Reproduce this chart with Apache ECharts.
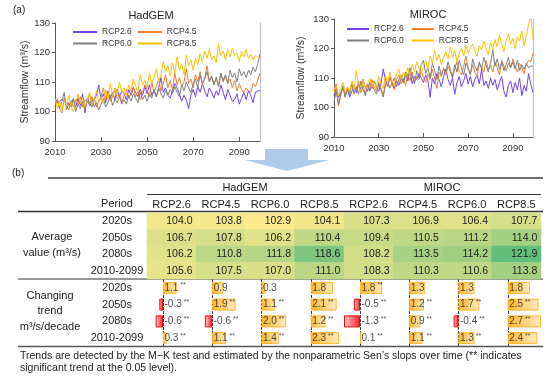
<!DOCTYPE html>
<html>
<head>
<meta charset="utf-8">
<script src="https://cdn.jsdelivr.net/npm/echarts@6/dist/echarts.min.js"></script>
<style>
  html, body { margin: 0; padding: 0; background: #fff; }
  #chart { width: 550px; height: 384px; }
</style>
</head>
<body>
<div id="chart"></div>
<script>
// x categories of the two line charts
const years = [];
for (let y = 2010; y <= 2099; y++) years.push(String(y));

// (a) annual streamflow, 2010..2099
const hadgemRcp26 = [
  103.5, 103.0, 103.5, 104.0, 103.5, 103.0, 102.0, 103.5, 104.0, 101.5,
  104.5, 102.0, 106.0, 99.5, 104.5, 103.0, 101.5, 104.0, 105.5, 109.0,
  104.0, 106.0, 103.0, 107.0, 104.5, 106.5, 104.0, 107.5, 105.0, 107.0,
  106.0, 104.0, 107.5, 105.5, 108.0, 106.5, 105.0, 107.5, 105.5, 108.5,
  106.0, 109.0, 105.5, 107.0, 105.0, 108.0, 111.5, 106.5, 108.0, 105.5,
  104.5, 107.0, 109.5, 108.0, 106.0, 103.5, 105.5, 104.0, 101.0, 105.5,
  107.5, 105.0, 108.5, 106.5, 109.5, 107.0, 105.0, 108.0, 106.5, 104.5,
  107.0, 105.5, 109.0, 106.5, 104.0, 107.5, 105.5, 103.5, 104.0, 106.0,
  102.5, 104.5, 106.5, 104.0, 107.0, 105.5, 103.0, 106.5, 107.0, 107.0
];
const hadgemRcp45 = [
  102.0, 104.0, 101.0, 99.5, 104.5, 102.0, 100.5, 103.5, 101.5, 104.0,
  102.5, 105.0, 101.5, 104.0, 103.0, 106.0, 102.0, 104.5, 101.5, 103.5,
  105.0, 108.0, 104.0, 106.5, 103.5, 105.0, 107.5, 104.5, 106.0, 103.0,
  105.5, 107.5, 104.5, 106.0, 108.5, 105.0, 107.0, 104.0, 106.5, 109.0,
  107.5, 105.0, 110.0, 106.5, 108.5, 111.0, 107.0, 109.5, 112.5, 108.0,
  110.5, 107.5, 113.0, 109.0, 111.5, 108.5, 110.0, 114.5, 109.5, 111.0,
  108.0, 112.5, 110.0, 113.5, 109.0, 111.5, 115.5, 110.5, 112.0, 109.0,
  111.5, 108.5, 113.0, 110.0, 112.0, 109.5, 111.0, 108.0, 110.5, 107.0,
  109.5, 107.5, 106.5, 108.0, 107.0, 106.5, 109.5, 108.5, 110.5, 113.0
];
const hadgemRcp60 = [
  102.0, 104.0, 101.0, 103.5, 106.5, 100.5, 103.0, 101.5, 104.5, 100.0,
  102.5, 101.0, 103.5, 100.5, 104.0, 102.0, 105.0, 101.5, 103.0, 100.5,
  102.5, 104.5, 101.5, 103.0, 105.5, 102.0, 104.0, 103.0, 105.0, 102.5,
  104.0, 102.5, 105.5, 103.5, 106.0, 104.5, 103.0, 106.5, 104.0, 105.5,
  103.5, 106.0, 104.5, 107.5, 105.0, 108.0, 106.0, 104.5, 107.0, 105.5,
  107.5, 106.0, 108.5, 106.5, 105.0, 109.0, 107.0, 110.0, 108.0, 106.5,
  109.5, 111.0, 108.0, 112.5, 109.5, 111.0, 113.5, 110.0, 112.0, 109.0,
  111.5, 108.5, 113.0, 110.5, 112.5, 109.5, 114.0, 111.5, 113.0, 110.0,
  114.5, 112.0, 113.5, 111.5, 114.0, 112.5, 115.0, 113.5, 116.0, 119.5
];
const hadgemRcp85 = [
  104.5, 101.0, 103.5, 100.5, 104.0, 102.0, 105.5, 101.5, 100.0, 103.0,
  106.0, 102.5, 104.5, 101.5, 103.5, 106.5, 102.0, 104.0, 107.0, 103.5,
  105.0, 102.5, 107.5, 104.0, 109.5, 105.0, 108.0, 106.0, 110.0, 106.5,
  108.0, 105.5, 109.0, 107.0, 111.0, 108.5, 106.5, 112.5, 109.0, 110.5,
  108.0, 113.0, 109.5, 111.5, 114.5, 110.0, 112.5, 117.0, 113.5, 115.5,
  112.0, 116.5, 113.0, 118.5, 114.0, 116.0, 112.5, 119.0, 115.5, 117.5,
  114.0, 118.0, 116.0, 119.5, 117.0, 120.5, 118.0, 121.0, 117.5, 119.0,
  116.5, 123.0, 119.0, 120.5, 117.5, 121.0, 118.5, 121.5, 119.0, 120.0,
  117.0, 120.5, 118.5, 121.0, 118.0, 119.5, 117.5, 119.0, 118.5, 118.0
];
const mirocRcp26 = [
  104.0, 106.5, 103.5, 105.0, 107.0, 104.5, 106.0, 103.5, 105.5, 107.5,
  105.0, 108.0, 106.0, 109.5, 107.0, 105.5, 108.5, 106.5, 109.0, 107.0,
  105.5, 108.0, 113.0, 109.5, 107.0, 110.0, 108.5, 106.5, 109.0, 107.5,
  110.0, 108.5, 111.0, 109.0, 112.5, 108.0, 110.5, 109.5, 111.5, 110.0,
  108.5, 111.0, 109.0, 103.5, 110.0, 108.0, 111.5, 109.5, 107.0, 110.5,
  113.0, 109.5, 107.5, 110.0, 104.5, 108.5, 110.5, 107.0, 109.0, 111.5,
  108.0, 110.5, 107.0, 109.5, 111.0, 108.0, 113.0, 107.5, 109.0, 106.5,
  110.0, 107.5, 109.5, 106.0, 108.5, 110.5, 105.5, 103.5, 107.5, 109.0,
  105.0, 108.5, 106.0, 110.0, 104.0, 107.5, 105.5, 111.5, 108.0, 105.0
];
const mirocRcp45 = [
  106.0, 108.0, 100.5, 104.0, 107.5, 103.5, 106.5, 105.0, 108.5, 104.5,
  106.5, 109.0, 105.0, 107.5, 104.5, 108.0, 106.0, 109.5, 107.0, 105.5,
  108.5, 106.5, 104.0, 109.0, 107.0, 110.5, 108.0, 106.0, 109.5, 111.0,
  108.0, 110.0, 107.5, 111.5, 109.0, 112.0, 108.5, 110.5, 109.5, 112.5,
  110.0, 108.5, 111.5, 109.5, 113.0, 110.0, 106.5, 112.0, 110.5, 113.5,
  111.0, 114.0, 112.0, 110.0, 113.0, 115.5, 112.5, 111.0, 114.0, 117.5,
  113.0, 111.5, 114.5, 112.0, 110.5, 115.0, 113.5, 112.0, 116.0, 113.0,
  114.5, 112.0, 115.5, 113.5, 111.0, 116.0, 114.0, 112.5, 115.0, 113.5,
  116.5, 114.0, 112.0, 115.0, 113.5, 111.5, 114.5, 116.0, 115.5, 118.5
];
const mirocRcp60 = [
  102.0, 105.5, 101.0, 104.5, 107.0, 103.5, 106.0, 104.0, 108.5, 105.0,
  107.0, 104.5, 109.0, 106.0, 104.0, 108.0, 105.5, 107.5, 106.0, 104.5,
  108.0, 106.0, 103.5, 107.5, 109.0, 106.5, 108.5, 110.0, 107.0, 109.5,
  111.0, 108.5, 112.0, 109.5, 113.5, 110.5, 108.0, 112.5, 110.0, 114.5,
  116.0, 111.5, 113.5, 110.0, 115.0, 112.5, 109.5, 114.0, 111.0, 113.0,
  112.0, 115.5, 113.0, 110.5, 114.5, 112.0, 116.0, 113.5, 111.0, 115.0,
  113.5, 111.0, 116.5, 114.0, 112.5, 115.5, 113.0, 117.0, 114.5, 112.0,
  115.0, 119.5, 114.0, 116.5, 113.0, 115.5, 112.5, 114.5, 117.0, 113.5,
  115.5, 113.0, 116.0, 112.5, 114.5, 113.0, 115.0, 113.5, 114.0, 114.0
];
const mirocRcp85 = [
  105.0, 107.5, 104.0, 106.5, 108.5, 105.0, 107.0, 105.5, 109.0, 106.0,
  112.5, 107.0, 105.5, 109.5, 106.5, 108.0, 110.0, 107.0, 109.0, 106.5,
  110.5, 108.0, 106.5, 111.0, 108.5, 112.0, 109.0, 107.5, 111.5, 113.0,
  109.5, 112.0, 110.0, 113.5, 111.0, 114.5, 112.0, 115.5, 113.0, 111.5,
  114.0, 116.0, 113.0, 117.5, 115.0, 119.5, 116.0, 118.0, 114.5, 117.0,
  119.0, 116.5, 120.5, 117.0, 119.5, 115.5, 118.5, 120.0, 117.5, 121.0,
  118.5, 120.0, 121.5, 119.0, 117.5, 121.0, 119.5, 122.5, 120.0, 118.0,
  122.0, 119.5, 123.0, 120.5, 124.5, 121.5, 119.0, 122.5, 125.0, 121.5,
  123.5, 120.0, 124.0, 122.5, 126.0, 121.0, 124.5, 128.0, 131.5, 123.0
];

// (b) table
const scenarios = ['RCP2.6', 'RCP4.5', 'RCP6.0', 'RCP8.5', 'RCP2.6', 'RCP4.5', 'RCP6.0', 'RCP8.5'];
const periods = ['2020s', '2050s', '2080s', '2010-2099'];
const avg2020s = [104.0, 103.8, 102.9, 104.1, 107.3, 106.9, 106.4, 107.7];
const avg2050s = [106.7, 107.8, 106.2, 110.4, 109.4, 110.5, 111.2, 114.0];
const avg2080s = [106.2, 110.8, 111.8, 118.6, 108.2, 113.5, 114.2, 121.9];
const avgAll = [105.6, 107.5, 107.0, 111.0, 108.3, 110.3, 110.6, 113.8];
const trend2020s = [1.1, 0.9, 0.3, 1.8, 1.8, 1.3, 1.3, 1.8];
const trend2050s = [-0.3, 1.9, 1.1, 2.1, -0.5, 1.2, 1.7, 2.5];
const trend2080s = [-0.6, -0.6, 2.0, 1.2, -1.3, 0.9, -0.4, 2.7];
const trendAll = [0.3, 1.1, 1.4, 2.3, 0.1, 1.1, 1.3, 2.4];
const sig2020s = [1, 0, 0, 0, 1, 0, 0, 0];
const sig2050s = [1, 1, 1, 1, 1, 1, 1, 1];
const sig2080s = [1, 1, 1, 1, 1, 1, 1, 1];
const sigAll = [1, 1, 1, 1, 1, 1, 1, 1];

const FONT = 'Liberation Sans, Arial, sans-serif';
const colors = { 'RCP2.6': '#7040F2', 'RCP4.5': '#ED7D31', 'RCP6.0': '#7F7F7F', 'RCP8.5': '#FFC000' };

let chart = echarts.init(document.getElementById('chart'), null, { renderer: 'canvas' });

let grid = [
  { left: 55, top: 23, width: 205, height: 118 },   // HadGEM lines
  { left: 334, top: 19, width: 199, height: 118 },  // MIROC lines
  { left: 147, top: 213, width: 394, height: 66 }   // average heatmap
];
let xAxis = [];
let yAxis = [];
let series = [];

// line charts
function lineAxes(gi, nameGap) {
  xAxis.push({
    type: 'category', gridIndex: gi, data: years, boundaryGap: false,
    axisLine: { lineStyle: { color: '#595959' } },
    axisTick: { inside: true, length: 4, interval: 19, lineStyle: { color: '#595959' } },
    axisLabel: { interval: 19, fontSize: 9.5, color: '#333', margin: 6, fontFamily: FONT },
    splitLine: { show: false }
  });
  yAxis.push({
    type: 'value', gridIndex: gi, min: 90, max: 130, interval: 10,
    name: 'Streamflow (m³/s)', nameLocation: 'middle', nameGap: nameGap,
    nameTextStyle: { fontSize: 10.5, color: '#333', fontFamily: FONT },
    axisLine: { show: true, lineStyle: { color: '#595959' } },
    axisTick: { show: true, length: 3, lineStyle: { color: '#595959' } },
    axisLabel: { fontSize: 9.5, color: '#333', margin: 5, fontFamily: FONT },
    splitLine: { show: false }
  });
  yAxis.push({
    type: 'value', gridIndex: gi, min: 90, max: 130, position: 'right',
    axisLine: { show: true, lineStyle: { color: '#c0c0c0' } },
    axisTick: { show: false }, axisLabel: { show: false }, splitLine: { show: false }
  });
}
lineAxes(0, 24);
lineAxes(1, 27);

function addLines(gi, yi, list) {
  list.forEach(([name, data]) => {
    series.push({
      type: 'line', name: name, xAxisIndex: gi, yAxisIndex: yi, data: data,
      symbol: 'none', lineStyle: { width: 1, color: colors[name] },
      itemStyle: { color: colors[name] }
    });
  });
}
addLines(0, 0, [['RCP2.6', hadgemRcp26], ['RCP4.5', hadgemRcp45], ['RCP6.0', hadgemRcp60], ['RCP8.5', hadgemRcp85]]);
addLines(1, 2, [['RCP2.6', mirocRcp26], ['RCP4.5', mirocRcp45], ['RCP6.0', mirocRcp60], ['RCP8.5', mirocRcp85]]);

// heatmap of average values
xAxis.push({
  type: 'category', gridIndex: 2, data: scenarios, position: 'top',
  axisLine: { show: false }, axisTick: { show: false },
  axisLabel: { interval: 0, fontSize: 11, color: '#222', margin: 3, fontFamily: FONT }
});
yAxis.push({
  type: 'category', gridIndex: 2, data: periods, inverse: true,
  axisLine: { show: false }, axisTick: { show: false },
  axisLabel: { interval: 0, fontSize: 11, color: '#222', margin: 30, align: 'center', fontFamily: FONT }
});
let avgRows = [avg2020s, avg2050s, avg2080s, avgAll];
let heatData = [];
avgRows.forEach((row, r) => row.forEach((v, c) => heatData.push([c, r, v])));
let heatIndex = series.length;
series.push({
  type: 'heatmap', xAxisIndex: 2, yAxisIndex: 4, data: heatData,
  label: {
    show: true, position: 'insideRight', distance: 4,
    fontSize: 10.5, color: '#222', fontFamily: FONT,
    formatter: p => p.value[2].toFixed(1)
  },
  emphasis: { disabled: true }
});

// data bars of changing trend, one small grid per column
let trendRows = [trend2020s, trend2050s, trend2080s, trendAll];
let sigRows = [sig2020s, sig2050s, sig2080s, sigAll];
const colW = 394 / 8;
const posFill = new echarts.graphic.LinearGradient(0, 0, 1, 0, [
  { offset: 0, color: '#FFB628' }, { offset: 1, color: '#FFEBC4' }
]);
const negFill = new echarts.graphic.LinearGradient(0, 0, 1, 0, [
  { offset: 0, color: '#FFD2D2' }, { offset: 1, color: '#FF1A1A' }
]);
for (let k = 0; k < 8; k++) {
  let gi = grid.length;
  grid.push({ left: 147 + k * colW, top: 279.5, width: colW, height: 67 });
  let xi = xAxis.length;
  xAxis.push({ type: 'value', gridIndex: gi, min: -1.3, max: 2.7, show: false });
  let yi = yAxis.length;
  yAxis.push({
    type: 'category', gridIndex: gi, data: periods, inverse: true,
    axisLine: { show: true, onZero: true, lineStyle: { color: '#333', type: [2, 2], width: 1 } },
    axisTick: { show: false }, axisLabel: { show: false }
  });
  series.push({
    type: 'bar', xAxisIndex: xi, yAxisIndex: yi, barWidth: 12, z: 2,
    data: trendRows.map(row => {
      let v = row[k];
      return {
        value: v,
        itemStyle: v >= 0
          ? { color: posFill, borderColor: '#FFB628', borderWidth: 1 }
          : { color: negFill, borderColor: '#FF0000', borderWidth: 1 }
      };
    }),
    emphasis: { disabled: true }
  });
  series.push({
    type: 'scatter', xAxisIndex: xi, yAxisIndex: yi, symbolSize: 1, z: 5,
    itemStyle: { color: 'rgba(0,0,0,0)' },
    data: trendRows.map((row, r) => ({ value: [0, r], t: row[k].toFixed(1), s: sigRows[r][k] })),
    label: {
      show: true, position: 'right', distance: 1,
      formatter: p => '{v|' + p.data.t + '}' + (p.data.s ? '{s| **}' : ''),
      rich: {
        v: { fontSize: 10, color: '#222', fontFamily: FONT, lineHeight: 12 },
        s: { fontSize: 7, color: '#222', fontFamily: FONT, verticalAlign: 'top', lineHeight: 8 }
      }
    },
    emphasis: { disabled: true }
  });
  if (k === 0) {
    yAxis.push({
      type: 'category', gridIndex: gi, data: periods, inverse: true, position: 'left',
      axisLine: { show: false, onZero: false }, axisTick: { show: false },
      axisLabel: { interval: 0, fontSize: 11, color: '#222', margin: 30, align: 'center', fontFamily: FONT }
    });
  }
}

function legendRow(names, left, top, itemWidth, itemGap) {
  return {
    data: names.map(n => ({ name: n, icon: 'rect' })),
    left: left, top: top, itemWidth: itemWidth, itemHeight: 2, itemGap: itemGap,
    selectedMode: false,
    textStyle: { fontSize: 8.5, color: '#333', fontFamily: FONT }
  };
}

function txt(text, x, y, size, align, extra) {
  return {
    type: 'text', silent: true,
    style: Object.assign({
      text: text, x: x, y: y, fill: '#222', font: size + 'px ' + FONT,
      textAlign: align || 'left', textVerticalAlign: 'middle'
    }, extra || {})
  };
}
function hline(x1, x2, y, w, c) {
  return { type: 'line', silent: true, shape: { x1: x1, y1: y, x2: x2, y2: y }, style: { stroke: c, lineWidth: w } };
}

let option = {
  animation: false,
  textStyle: { fontFamily: FONT },
  title: [
    { text: 'HadGEM', left: 146, top: 5, textAlign: 'center', textStyle: { fontSize: 11, fontWeight: 'normal', color: '#222', fontFamily: FONT } },
    { text: 'MIROC', left: 423, top: 4, textAlign: 'center', textStyle: { fontSize: 11, fontWeight: 'normal', color: '#222', fontFamily: FONT } }
  ],
  legend: [
    legendRow(['RCP2.6', 'RCP4.5'], 68, 22.5, 24, 6),
    legendRow(['RCP6.0', 'RCP8.5'], 68, 34, 24, 6),
    legendRow(['RCP2.6', 'RCP4.5'], 342, 19.5, 22, 8),
    legendRow(['RCP6.0', 'RCP8.5'], 342, 31, 22, 8)
  ],
  visualMap: {
    show: false, type: 'continuous', seriesIndex: heatIndex, dimension: 2,
    min: 102.9, max: 121.9, inRange: { color: ['#FCE98C', '#63BE7B'] }
  },
  grid: grid,
  xAxis: xAxis,
  yAxis: yAxis,
  series: series,
  graphic: [
    txt('(a)', 13, 10, 10),
    txt('(b)', 12, 173, 10),
    {
      type: 'polygon', silent: true,
      shape: { points: [[265, 149], [308, 149], [308, 160], [329, 160], [287, 171], [245, 160], [265, 160]] },
      style: { fill: '#AFCBEA' }
    },
    hline(48, 543, 178, 2, '#707070'),
    txt('HadGEM', 245, 188, 11, 'center'),
    txt('MIROC', 442, 188, 11, 'center'),
    hline(147, 541, 194.5, 1, '#333'),
    txt('Period', 117, 204, 11, 'center'),
    hline(18, 543, 211.5, 1.5, '#333'),
    txt('Average\nvalue (m³/s)', 52, 245, 11, 'center', { lineHeight: 16 }),
    hline(18, 543, 279, 1.2, '#333'),
    txt('Changing\ntrend\nm³/s/decade', 50, 311, 11, 'center', { lineHeight: 15.5 }),
    hline(18, 543, 346.5, 1.5, '#555'),
    txt('Trends are detected by the M\u2212K test and estimated by the nonparametric Sen\u2019s slops over time (** indicates\nsignificant trend at the 0.05 level).', 20, 362, 10.5, 'left', { lineHeight: 12.5 })
  ]
};

chart.setOption(option);
</script>
</body>
</html>
